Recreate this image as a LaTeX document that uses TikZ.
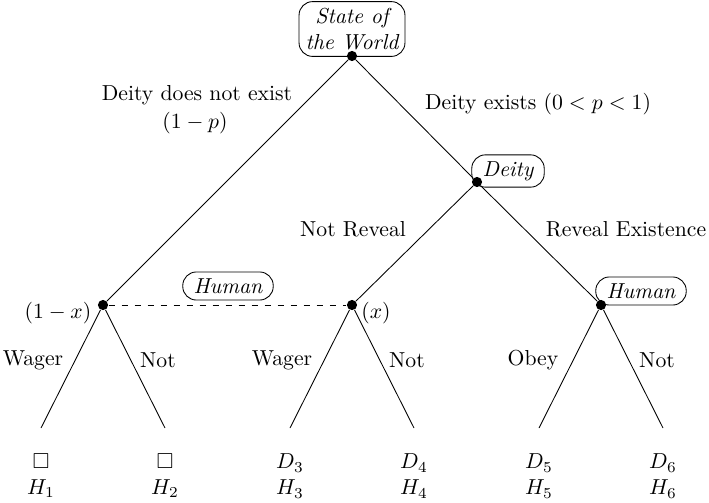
\documentclass[tikz,border=0pt]{standalone}
\usepackage{amsmath}
\usepackage{amssymb}
\usepackage{tikz}
\usetikzlibrary{positioning,calc}

\begin{document}
\begin{tikzpicture}[
    x=0.0162cm, y=-0.0162cm,
    dot/.style={circle, fill=black, inner sep=0pt, minimum size=1.65mm},
    player/.style={rectangle, draw, rounded corners=2.2mm, inner xsep=5pt, inner ysep=3pt, font=\itshape, align=center},
    payoff/.style={align=center, inner sep=1pt},
    info/.style={dashed}
]
\useasboundingbox (0,0) rectangle (709,502);

% Decision nodes
\node[dot] (world) at (352,56) {};
\node[dot] (deity) at (477,182) {};
\node[dot] (hleft) at (103,305) {};
\node[dot] (hmid) at (352,305) {};
\node[dot] (hright) at (601,305) {};

% Leaves
\coordinate (l1) at (41,428);
\coordinate (l2) at (165,428);
\coordinate (l3) at (290,428);
\coordinate (l4) at (414,428);
\coordinate (l5) at (539,428);
\coordinate (l6) at (663,428);

% Players
\node[player, inner xsep=3pt] (pworld) at (352,29) {State of\\the World};
\node[player] (pdeity) at (508,171) {Deity};
\node[player] (phuman) at (228,286) {Human};
\node[player] (phright) at (641,291) {Human};

% Branch labels
\node (bno) at (197,95) {Deity does not exist};
\node (bnop) at (195,123) {$(1-p)$};
\node (byes) at (538,104) {Deity exists $(0<p<1)$};
\node (bnr) at (353,229) {Not Reveal};
\node (bre) at (626,229) {Reveal Existence};
\node (bpl) at (58,313) {$(1-x)$};
\node (bpr) at (376,313) {$(x)$};
\node (bw1) at (33,360) {Wager};
\node (bn1) at (158,360) {Not};
\node (bw2) at (282,360) {Wager};
\node (bn2) at (407,360) {Not};
\node (bo3) at (533,360) {Obey};
\node (bn3) at (657,360) {Not};

% Payoffs
\node[payoff] (h1) at (41,476) {$\square$\\$H_1$};
\node[payoff] (h2) at (165,476) {$\square$\\$H_2$};
\node[payoff] (h3) at (290,476) {$D_3$\\$H_3$};
\node[payoff] (h4) at (414,476) {$D_4$\\$H_4$};
\node[payoff] (h5) at (539,476) {$D_5$\\$H_5$};
\node[payoff] (h6) at (663,476) {$D_6$\\$H_6$};

% Edges
\draw (world) -- (hleft);
\draw (world) -- (deity);
\draw (deity) -- (hmid);
\draw (deity) -- (hright);
\draw (hleft) -- (l1);
\draw (hleft) -- (l2);
\draw (hmid) -- (l3);
\draw (hmid) -- (l4);
\draw (hright) -- (l5);
\draw (hright) -- (l6);
\draw[info] (hleft) -- (hmid);
\end{tikzpicture}
\end{document}
